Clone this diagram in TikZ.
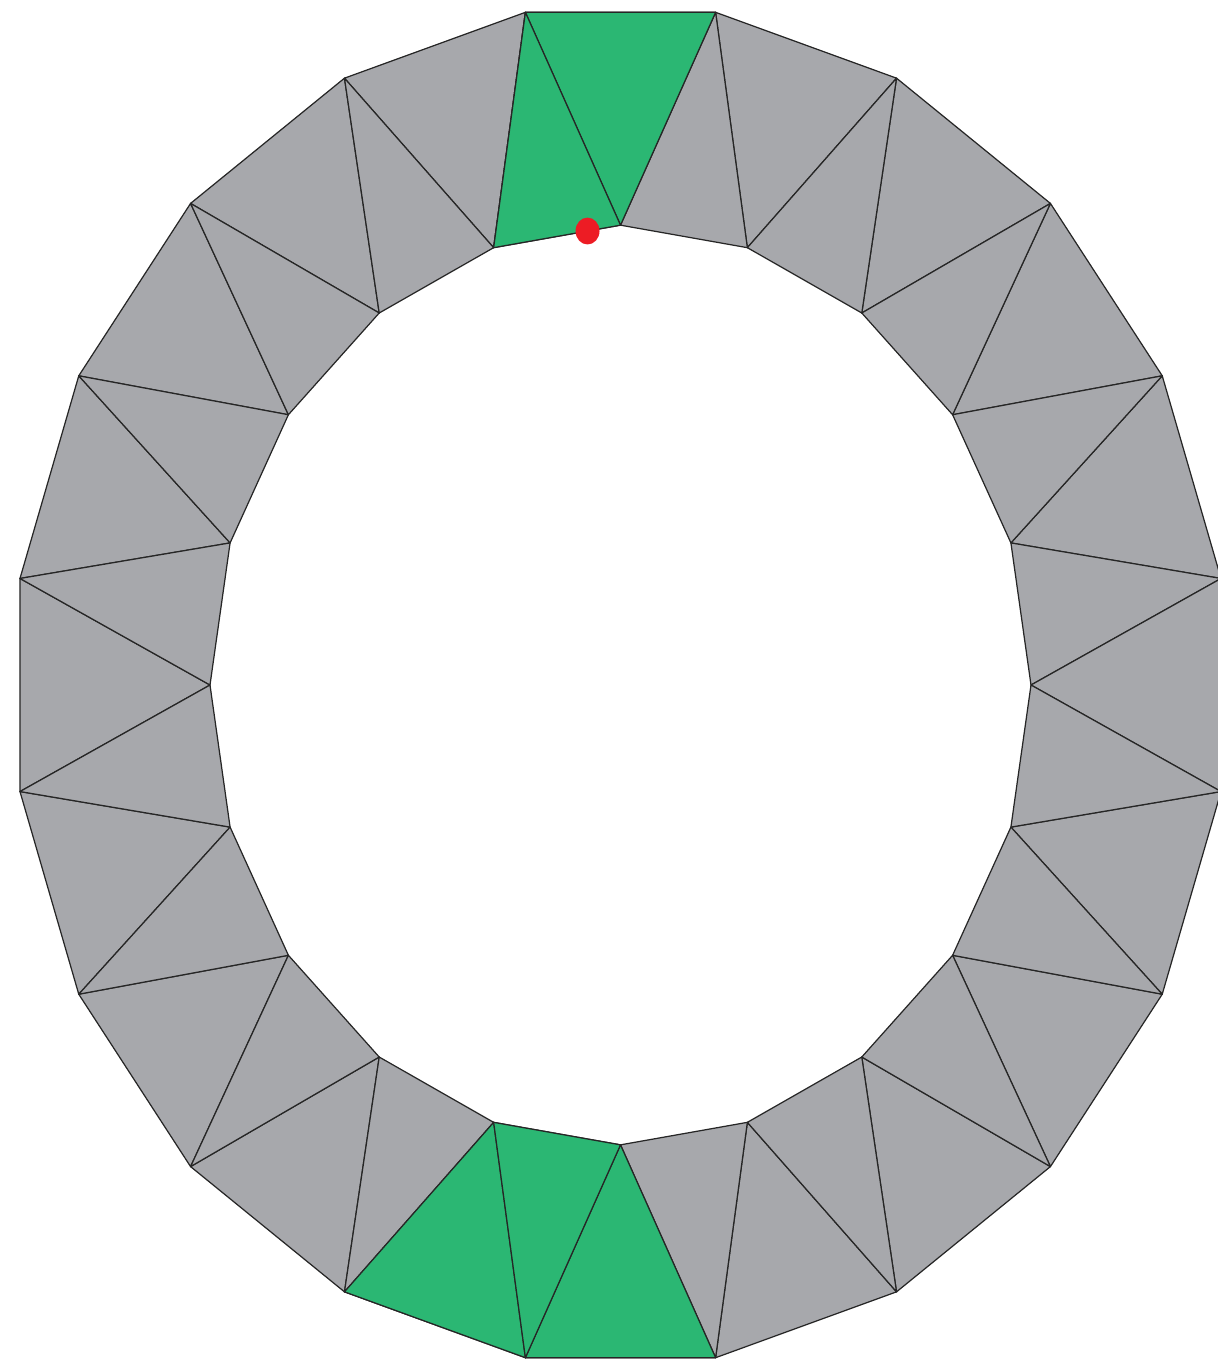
\documentclass[tikz,border=0pt]{standalone}
\usetikzlibrary{calc}
\definecolor{ringgray}{RGB}{167,168,172}
\definecolor{ringgreen}{RGB}{43,183,115}
\definecolor{dotred}{RGB}{237,28,36}
\begin{document}
\begin{tikzpicture}[
  edge/.style={draw=black!85, line width=0.35pt, line join=round},
  cell/.style={edge, fill=ringgray},
  marked/.style={edge, fill=ringgreen}]
  \useasboundingbox (0,0) rectangle (12.17,-13.59);
  \begin{scope}[shift={(6.205,-6.85)}, yscale=1.12]
    % outer and inner polygon corners
    \foreach \i in {0,...,19} {
      \coordinate (o\i) at (9+18*\i:6.08);
      \coordinate (n\i) at (18*\i:4.105);
    }
    % strip of triangles
    \foreach \i in {0,...,19} {
      \pgfmathtruncatemacro\j{mod(\i+1,20)}
      \path[cell] (o\i) -- (o\j) -- (n\j) -- cycle;
      \path[cell] (n\i) -- (n\j) -- (o\i) -- cycle;
    }
    % highlighted triangles
    \foreach \i in {4,13,14} {
      \pgfmathtruncatemacro\j{mod(\i+1,20)}
      \path[marked] (o\i) -- (o\j) -- (n\j) -- cycle;
    }
    \foreach \i in {5,14} {
      \pgfmathtruncatemacro\j{mod(\i+1,20)}
      \path[marked] (n\i) -- (n\j) -- (o\i) -- cycle;
    }
    % point on the inner edge
    \fill[dotred] ($(n6)!0.74!(n5)$) circle (0.12);
  \end{scope}
\end{tikzpicture}
\end{document}
